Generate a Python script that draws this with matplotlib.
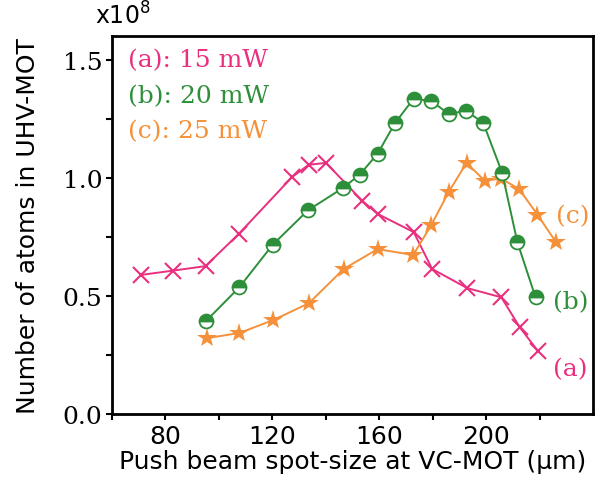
import matplotlib
matplotlib.use('Agg')
import matplotlib.pyplot as plt
from matplotlib.ticker import FixedLocator

# spot-size (um) and atom number (x1e8) for each push-beam power
x_a = [71.0, 82.9, 95.0, 107.5, 127.3, 133.6, 140.1, 153.6, 159.4, 172.9, 179.8, 192.9, 205.7, 212.6, 219.3]
y_a = [0.589, 0.607, 0.626, 0.763, 1.002, 1.055, 1.063, 0.903, 0.847, 0.770, 0.614, 0.533, 0.494, 0.367, 0.268]

x_b = [95.3, 107.7, 120.1, 133.3, 146.3, 152.7, 159.4, 166.0, 172.9, 179.4, 186.0, 192.5, 198.9, 206.0, 211.7, 218.5]
y_b = [0.395, 0.537, 0.716, 0.862, 0.956, 1.013, 1.102, 1.233, 1.335, 1.325, 1.271, 1.283, 1.233, 1.021, 0.727, 0.494]

x_c = [95.5, 107.7, 120.4, 133.7, 146.7, 159.4, 172.7, 179.4, 186.0, 192.7, 199.4, 205.6, 212.3, 219.2, 226.0]
y_c = [0.321, 0.343, 0.398, 0.469, 0.614, 0.698, 0.673, 0.798, 0.940, 1.063, 0.988, 0.996, 0.953, 0.844, 0.730]

labels = ["(a): 15 mW", "(b): 20 mW", "(c): 25 mW"]
tags = ["(a)", "(b)", "(c)"]
xticks = [80, 120, 160, 200]
xminor = [60, 100, 140, 180, 220]
yticks = [0.0, 0.5, 1.0, 1.5]
ytick_labels = ["0.0", "0.5", "1.0", "1.5"]

pink = '#E8307F'
green = '#2E8F3A'
orange = '#F5913A'

serif = 'DejaVu Serif'
sans = 'DejaVu Sans'

fig = plt.figure(figsize=(6.04, 4.89), dpi=100)
ax = fig.add_axes([0.1854, 0.1513, 0.7964, 0.7730])

ax.plot(x_a, y_a, '-', color=pink, lw=1.4, marker='x', ms=12, mew=1.5, zorder=3)
ax.plot(x_b, y_b, '-', color=green, lw=1.4, marker='o', ms=10, mew=1.3,
        fillstyle='top', markerfacecolor=green, markerfacecoloralt='white',
        markeredgecolor=green, zorder=4)
ax.plot(x_c, y_c, '-', color=orange, lw=1.4, marker='*', ms=15, mew=0, zorder=3)

ax.set_xlim(60, 240)
ax.set_ylim(0, 1.6)
ax.xaxis.set_major_locator(FixedLocator(xticks))
ax.xaxis.set_minor_locator(FixedLocator(xminor))
ax.set_yticks(yticks)
ax.set_yticklabels(ytick_labels, fontfamily=serif, fontsize=18)
ax.yaxis.set_minor_locator(FixedLocator([0.25, 0.75, 1.25]))
ax.tick_params(which='both', direction='out', length=4, width=1.5)
ax.tick_params(axis='x', labelsize=18, pad=3)
ax.tick_params(axis='y', pad=3)
for s in ax.spines.values():
    s.set_linewidth(2)

ax.set_xlabel("Push beam spot-size at VC-MOT (\u03bcm)", fontfamily=sans, fontsize=18, labelpad=1)
ax.set_ylabel("Number of atoms in UHV-MOT", fontfamily=sans, fontsize=18, labelpad=16)

fig.text(0.157, 0.94, r"x10$^{8}$", fontfamily=sans, fontsize=17, ha='left', va='bottom')

cols = [pink, green, orange]
for i, (lab, c) in enumerate(zip(labels, cols)):
    ax.text(0.033, 0.937 - i * 0.094, lab, transform=ax.transAxes, color=c,
            fontfamily=serif, fontsize=18, va='center', ha='left')

ax.text(225.0, 0.19, tags[0], color=pink, fontfamily=serif, fontsize=18, va='center')
ax.text(225.0, 0.475, tags[1], color=green, fontfamily=serif, fontsize=18, va='center')
ax.text(226.0, 0.839, tags[2], color=orange, fontfamily=serif, fontsize=18, va='center')

fig.savefig('out.png', dpi=100)
